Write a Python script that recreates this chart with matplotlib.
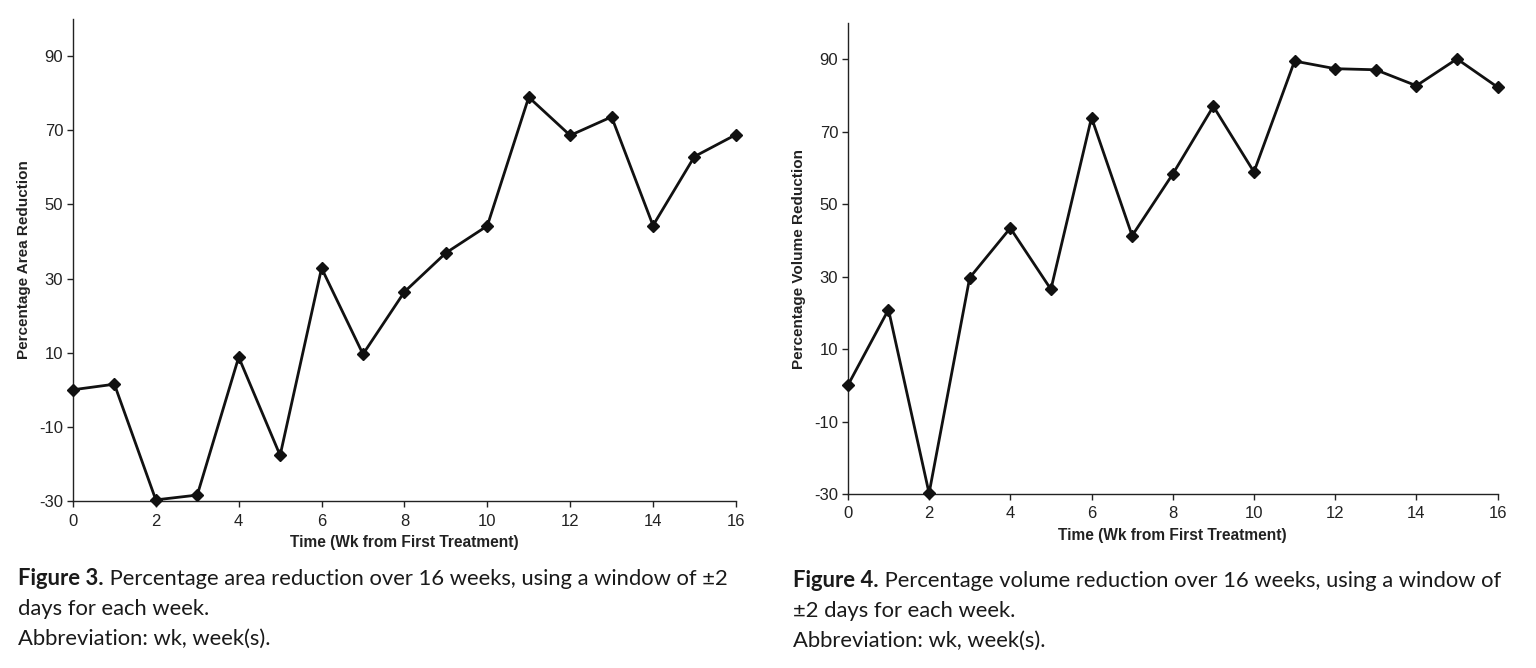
import numpy as np
import matplotlib
matplotlib.use("Agg")
import matplotlib.pyplot as plt

plt.rcParams["axes.unicode_minus"] = False

weeks = list(range(17))
area_reduction = [0, 1.5, -29.7, -28.4, 8.8, -17.7, 32.8, 9.6, 26.4, 36.9,
                  44.2, 78.9, 68.6, 73.6, 44.3, 62.9, 68.8]
volume_reduction = [0, 20.9, -29.8, 29.7, 43.4, 26.5, 73.9, 41.3, 58.3, 77.0,
                    58.9, 89.5, 87.4, 87.1, 82.7, 90.1, 82.3]
y_ticks = [-30, -10, 10, 30, 50, 70, 90]
x_ticks = list(range(0, 17, 2))

x_label = "Time (Wk from First Treatment)"
y_labels = ["Percentage Area Reduction", "Percentage Volume Reduction"]
captions = [
    ("Figure 3.", " Percentage area reduction over 16 weeks, using a window of \u00b12",
     ["days for each week.", "Abbreviation: wk, week(s)."]),
    ("Figure 4.", " Percentage volume reduction over 16 weeks, using a window of",
     ["\u00b12 days for each week.", "Abbreviation: wk, week(s)."]),
]

tick_font = ["Liberation Sans Narrow", "Liberation Sans", "DejaVu Sans"]
cap_font = ["Lato", "DejaVu Sans"]

fig = plt.figure(figsize=(15.36, 6.68), dpi=100)
ax1 = fig.add_axes([0.0475, 0.250, 0.4316, 0.7216])
ax2 = fig.add_axes([0.552, 0.2605, 0.423, 0.705])

for ax, vals, ylab in [(ax1, area_reduction, y_labels[0]),
                       (ax2, volume_reduction, y_labels[1])]:
    ax.plot(weeks, vals, color="#111111", linewidth=2.0, marker="D",
            markersize=6.5, markerfacecolor="#111111", clip_on=False, zorder=3)
    ax.set_xlim(0, 16)
    ax.set_ylim(-30, 100)
    ax.set_yticks(y_ticks)
    ax.set_xticks(x_ticks)
    for s in ["top", "right"]:
        ax.spines[s].set_visible(False)
    for s in ["left", "bottom"]:
        ax.spines[s].set_linewidth(1.0)
        ax.spines[s].set_color("#222222")
    ax.tick_params(direction="out", length=4, width=1, colors="#222222",
                   labelsize=12, pad=3)
    ax.tick_params(axis="x", pad=5)
    for lbl in ax.get_xticklabels() + ax.get_yticklabels():
        lbl.set_family(tick_font)
    ax.set_xlabel(x_label, family=["Liberation Sans", "DejaVu Sans"],
                  fontweight="bold", fontsize=11.2, color="#222222", labelpad=5)
    ax.set_ylabel(ylab, family=["Liberation Sans", "DejaVu Sans"],
                  fontweight="bold", fontsize=11, color="#222222", labelpad=6)

cap_pos = [(18 / 1536, 585), (793 / 1536, 587)]
for (bold, first, rest), (cx, base) in zip(captions, cap_pos):
    tb = fig.text(cx, 1 - base / 668, bold, family=cap_font, fontweight="bold",
                  fontsize=15.8, color="#1a1a1a", va="baseline")
    ax1.annotate(first, xy=(1, 0), xycoords=tb, va="bottom", ha="left",
                 family=cap_font, fontsize=15.8, color="#1a1a1a",
                 annotation_clip=False)
    for i, line in enumerate(rest):
        fig.text(cx, 1 - (base + 30 * (i + 1)) / 668, line, family=cap_font,
                 fontsize=15.8, color="#1a1a1a", va="baseline")

fig.savefig("out.png", dpi=100)
